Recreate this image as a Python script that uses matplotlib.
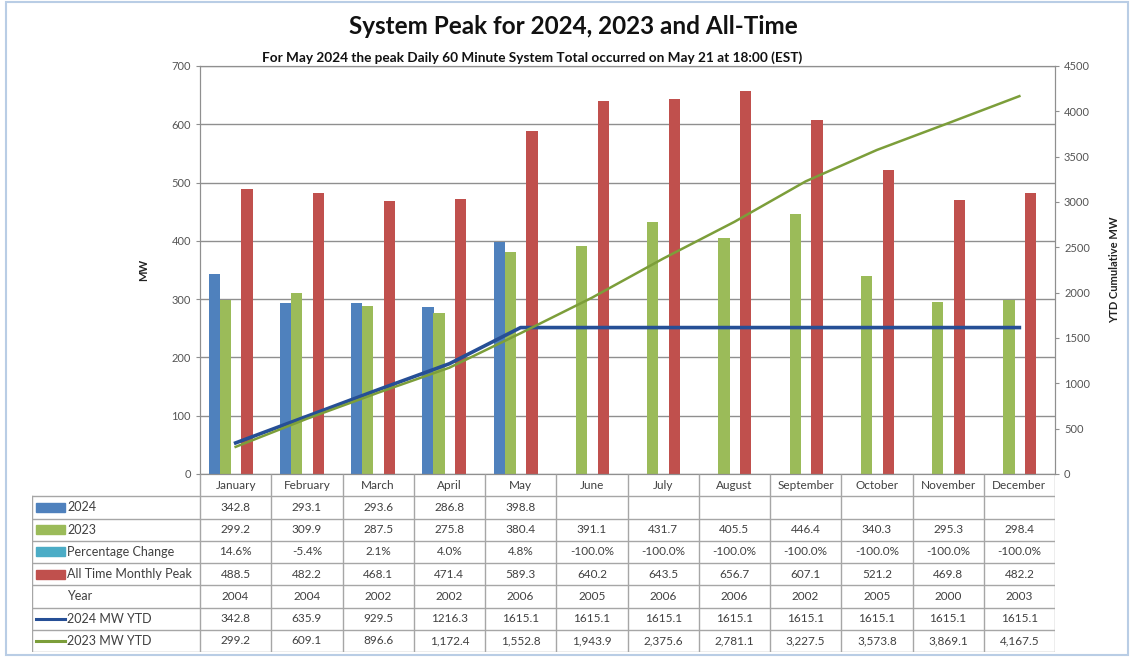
import matplotlib
matplotlib.use("Agg")
import matplotlib.pyplot as plt
import numpy as np
from matplotlib.patches import Rectangle

plt.rcParams['font.family'] = ['Lato', 'DejaVu Sans']

months = ["January", "February", "March", "April", "May", "June", "July",
          "August", "September", "October", "November", "December"]
peak_2024 = [342.8, 293.1, 293.6, 286.8, 398.8, None, None, None, None, None, None, None]
peak_2023 = [299.2, 309.9, 287.5, 275.8, 380.4, 391.1, 431.7, 405.5, 446.4, 340.3, 295.3, 298.4]
pct_change = [0.146, -0.054, 0.021, 0.040, 0.048, -1.0, -1.0, -1.0, -1.0, -1.0, -1.0, -1.0]
all_time_peak = [488.5, 482.2, 468.1, 471.4, 589.3, 640.2, 643.5, 656.7, 607.1, 521.2, 469.8, 482.2]
all_time_year = [2004, 2004, 2002, 2002, 2006, 2005, 2006, 2006, 2002, 2005, 2000, 2003]
ytd_2024 = [342.8, 635.9, 929.5, 1216.3, 1615.1, 1615.1, 1615.1, 1615.1, 1615.1, 1615.1, 1615.1, 1615.1]
ytd_2023 = [299.2, 609.1, 896.6, 1172.4, 1552.8, 1943.9, 2375.6, 2781.1, 3227.5, 3573.8, 3869.1, 4167.5]

C_BLUE = "#4F81BD"
C_GREEN = "#9BBB59"
C_TEAL = "#4BACC6"
C_RED = "#C0504D"
C_L24 = "#264F96"
C_L23 = "#7C9E3A"
GRID = "#8F8F8F"
TXT = "#404040"

W, H = 1131, 657
fig = plt.figure(figsize=(W / 100, H / 100), dpi=100)
fig.patch.set_facecolor("white")

def fx(px):
    return px / W

def fy(py):
    return 1 - py / H

# outer frame
fig.add_artist(Rectangle((fx(6), fy(655)), fx(1122), (653) / H, transform=fig.transFigure,
                         fill=False, edgecolor="#B9CDE5", linewidth=1.5))

left_px, right_px, top_px, bot_px = 200, 1055, 66, 474
ax = fig.add_axes([fx(left_px), fy(bot_px), fx(right_px - left_px), (bot_px - top_px) / H])
ax2 = ax.twinx()

x = np.arange(len(months)) + 0.5
bw = 0.16
v24 = np.array([np.nan if v is None else v for v in peak_2024], dtype=float)
ax.bar(x - 0.30, v24, bw, color=C_BLUE, zorder=2)
ax.bar(x - 0.145, peak_2023, bw, color=C_GREEN, zorder=2)
ax.bar(x + 0.005, pct_change, bw, color=C_TEAL, zorder=2)
ax.bar(x + 0.16, all_time_peak, bw, color=C_RED, zorder=2)

ax.set_xlim(0, 12)
ax.set_ylim(0, 700)
ax.set_yticks(np.arange(0, 701, 100))
ax.yaxis.grid(True, color=GRID, linewidth=1.0)
ax.set_axisbelow(True)
ax.set_xticks([])
ax.tick_params(axis='y', labelsize=8, labelcolor="#555555", color=GRID, length=3)
for s in ax.spines.values():
    s.set_color(GRID)
ax.set_ylabel("MW", fontsize=8, fontweight="bold", color="#222222", labelpad=16)

ax2.plot(x, ytd_2024, color=C_L24, linewidth=2.6, zorder=3)
ax2.plot(x, ytd_2023, color=C_L23, linewidth=1.8, zorder=4)
ax2.set_ylim(0, 4500)
ax2.set_yticks(np.arange(0, 4501, 500))
ax2.tick_params(axis='y', labelsize=8, labelcolor="#555555", color=GRID, length=3)
for s in ax2.spines.values():
    s.set_color(GRID)
ax2.set_ylabel("YTD Cumulative MW", fontsize=8, fontweight="bold", color="#222222",
               rotation=90, labelpad=14)
ax2.set_xlim(0, 12)

# titles
fig.text(fx(573), fy(27), "System Peak for 2024, 2023 and All-Time", ha="center", va="center",
         fontsize=17.5, fontweight="bold", color="#111111")
fig.text(fx(532), fy(58), "For May 2024 the peak Daily 60 Minute System Total occurred on May 21 at 18:00 (EST)",
         ha="center", va="center", fontsize=9.8, fontweight="bold", color="#111111")

# data table
tab_left_px, tab_bot_px = 32, 652
tax = fig.add_axes([fx(tab_left_px), fy(tab_bot_px), fx(right_px - tab_left_px), (tab_bot_px - bot_px) / H])
x_left = (tab_left_px - left_px) / ((right_px - left_px) / 12)
tax.set_xlim(x_left, 12)
tax.set_ylim(8, 0)
tax.axis("off")

lc = "#A6A6A6"
for i in range(13):
    tax.plot([i, i], [0, 8], color=lc, linewidth=1.0, solid_capstyle="butt")
tax.plot([x_left, x_left], [1, 8], color=lc, linewidth=1.0)
for r in range(1, 9):
    tax.plot([x_left, 12], [r, r], color=lc, linewidth=1.0)

for i, m in enumerate(months):
    tax.text(i + 0.5, 0.5, m, ha="center", va="center", fontsize=8.5, color=TXT)

def fmt(v, kind):
    if v is None:
        return ""
    if kind == "p":
        return f"{v * 100:.1f}%"
    if kind == "y":
        return str(v)
    if kind == "c":
        return f"{v:,.1f}"
    return f"{v:.1f}"

rows = [
    ("2024", peak_2024, "f", ("bar", C_BLUE)),
    ("2023", peak_2023, "f", ("bar", C_GREEN)),
    ("Percentage Change", pct_change, "p", ("bar", C_TEAL)),
    ("All Time Monthly Peak", all_time_peak, "f", ("bar", C_RED)),
    ("Year", all_time_year, "y", None),
    ("2024 MW YTD", ytd_2024, "f", ("line", C_L24)),
    ("2023 MW YTD", ytd_2023, "c", ("line", C_L23)),
]
unit = (right_px - left_px) / 12
sw0 = (36 - left_px) / unit
sw1 = (65 - left_px) / unit
tx0 = (67 - left_px) / unit
for r, (label, vals, kind, key) in enumerate(rows):
    yc = r + 1.5
    if key is not None:
        if key[0] == "bar":
            tax.add_patch(Rectangle((sw0, yc - 0.2), sw1 - sw0, 0.4, color=key[1]))
        else:
            tax.plot([sw0, sw1], [yc, yc], color=key[1], linewidth=2.2)
    tax.text(tx0, yc, label, ha="left", va="center", fontsize=9, color=TXT)
    for i, v in enumerate(vals):
        tax.text(i + 0.5, yc, fmt(v, kind), ha="center", va="center", fontsize=8.5, color=TXT)

fig.savefig("out.png", dpi=100)
